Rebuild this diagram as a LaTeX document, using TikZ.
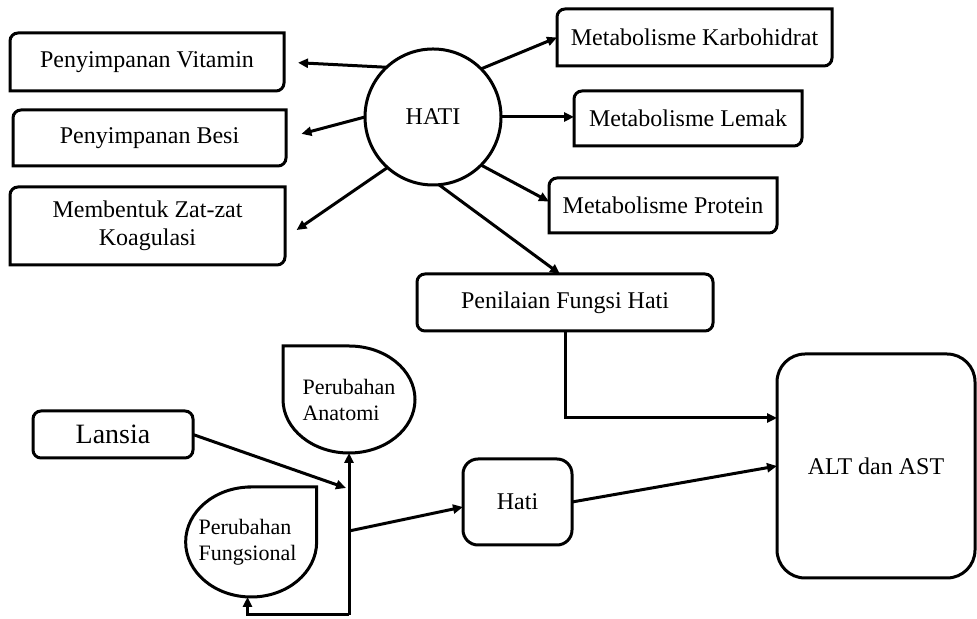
\documentclass[tikz,border=0pt]{standalone}
\usepackage{fontspec}
\setmainfont{Liberation Serif}
\usetikzlibrary{arrows.meta,shapes.geometric}

% frame with rounded top left and bottom right corners
\newcommand{\diagframe}[1]{%
  \draw[line width=1.5pt] (#1.south west) -- ([yshift=-4pt]#1.north west)
    arc[start angle=180,end angle=90,radius=4pt] -- (#1.north east)
    -- ([yshift=4pt]#1.south east)
    arc[start angle=0,end angle=-90,radius=4pt] -- cycle;}

\tikzset{
  fbox/.style={draw=none, outer sep=0pt, inner sep=0pt, align=center, font=\fontsize{12}{14}\selectfont},
  rbox/.style={draw, line width=1.5pt, rounded corners=4pt, outer sep=0pt, inner sep=0pt, align=center, font=\fontsize{12}{14}\selectfont},
  drop/.style={ellipse, draw=none, outer sep=0pt, inner sep=0pt, align=left, font=\fontsize{11}{13}\selectfont},
  conn/.style={line width=1.5pt, -{Triangle[length=5pt,width=4.5pt]}}
}

\begin{document}
\begin{tikzpicture}[x=0.5pt,y=0.5pt]
\useasboundingbox (0,0) rectangle (977,619);

% HATI and its functions
\node[circle, draw, line width=1.5pt, minimum size=68pt, inner sep=0pt, outer sep=0pt, font=\fontsize{12}{14}\selectfont] (hati) at (433,502) {HATI};
\node[fbox, minimum width=137pt, minimum height=29pt] (vit) at (147,557) {Penyimpanan Vitamin};
\node[fbox, minimum width=136.5pt, minimum height=28pt] (besi) at (149.5,481) {Penyimpanan Besi};
\node[fbox, minimum width=137.5pt, minimum height=39pt] (koag) at (147.5,393) {Membentuk Zat-zat\\Koagulasi};
\node[fbox, minimum width=137.5pt, minimum height=28.5pt] (karbo) at (694.5,581.5) {Metabolisme Karbohidrat};
\node[fbox, minimum width=114pt, minimum height=27.5pt] (lemak) at (688,500.5) {Metabolisme Lemak};
\node[fbox, minimum width=114pt, minimum height=27.5pt] (protein) at (663,413.5) {Metabolisme Protein};
\foreach \n in {vit,besi,koag,karbo,lemak,protein} {\diagframe{\n}}

\node[rbox, minimum width=148pt, minimum height=28.5pt] (pen) at (565,316.5) {Penilaian Fungsi Hati};
\node[rbox, rounded corners=14pt, minimum width=99pt, minimum height=112pt] (alt) at (876,153) {ALT dan AST};
\node[rbox, rounded corners=7.5pt, minimum width=54.5pt, minimum height=43pt] (hatib) at (517.5,117) {Hati};
\node[rbox, minimum width=80pt, minimum height=23.5pt, font=\fontsize{14}{16}\selectfont] (lansia) at (113,184.5) {Lansia};

% teardrop shapes
\node[drop, minimum width=66pt, minimum height=53.5pt] (anat) at (349,219.5) {Perubahan\\Anatomi};
\draw[line width=1.5pt] (anat.west) -- (anat.west |- anat.north) -- (anat.north)
  arc[start angle=90,end angle=-180,x radius=33pt,y radius=26.75pt] -- cycle;
\node[drop, minimum width=65.5pt, minimum height=55pt] (fung) at (247.5,77) {Perubahan\\Fungsional};
\draw[line width=1.5pt] (fung.north) -- (fung.east |- fung.north) -- (fung.east)
  arc[start angle=0,end angle=-270,x radius=32.75pt,y radius=27.5pt] -- cycle;

\coordinate (tbot) at (349,4);
\coordinate (tmid) at (349,88);
\coordinate (tlan) at (346,131);

% connectors
\draw[conn, shorten >=7pt] (hati.133) -- (vit.east);
\draw[conn, shorten >=8pt] (hati.west) -- (besi.east);
\draw[conn, shorten >=7pt] (hati.228) -- ([yshift=-6pt]koag.east);
\draw[conn] (hati.45) -- (karbo.west);
\draw[conn] (hati.east) -- (hati.east -| lemak.west);
\draw[conn] (hati.-45) -- ([yshift=2pt]protein.west);
\draw[conn] (hati.-85) -- ([xshift=-2.5pt]pen.north);
\draw[conn] (pen.south) |- ([yshift=24pt]alt.west);
\draw[conn] (hatib.east) -- (alt.west);
\draw[conn] (lansia.east) -- (tlan);
\draw[conn] (tbot) -- (anat.south);
\draw[conn] (tbot) -| (fung.south);
\draw[conn] (tmid) -- ([yshift=-2.5pt]hatib.west);
\end{tikzpicture}
\end{document}
